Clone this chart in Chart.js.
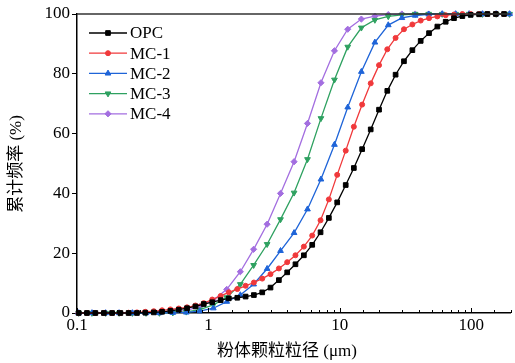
<!DOCTYPE html>
<html>
<head>
<meta charset="utf-8">
<script src="https://cdn.jsdelivr.net/npm/chart.js@4.4.0/dist/chart.umd.min.js"></script>
<style>
  html, body { margin: 0; padding: 0; background: #fff; }
  #wrap { width: 515px; height: 363px; }
</style>
</head>
<body>
<div id="wrap"><canvas id="psdChart" width="515" height="363"></canvas></div>
<script>
// particle size classes (um) - OPC and MC-1 were measured on a finer grid
const sizesA = [0.103, 0.119, 0.138, 0.160, 0.185, 0.214, 0.247, 0.286, 0.331, 0.384,
  0.444, 0.514, 0.595, 0.688, 0.797, 0.922, 1.07, 1.24, 1.43, 1.66,
  1.92, 2.22, 2.57, 2.97, 3.44, 3.98, 4.60, 5.33, 6.17, 7.14,
  8.26, 9.56, 11.1, 12.8, 14.8, 17.2, 19.9, 23.0, 26.6, 30.8,
  35.7, 41.3, 47.8, 55.3, 64.0, 74.0, 85.7, 99.2, 115, 133, 154, 178];
const sizesB = [0.103, 0.130, 0.165, 0.209, 0.264, 0.335, 0.424, 0.536, 0.679, 0.860,
  1.09, 1.38, 1.75, 2.21, 2.80, 3.54, 4.49, 5.68, 7.19, 9.11,
  11.5, 14.6, 18.5, 23.4, 29.7, 37.5, 47.5, 60.2, 76.2, 96.5, 122, 155, 196];

// cumulative passing (%)
const opc = [0, 0, 0, 0, 0, 0, 0, 0,
  0.1, 0.2, 0.4, 0.7, 1.1, 1.6, 2.2, 3.0, 3.6, 4.3,
  4.9, 5.1, 5.5, 6.0, 6.9, 8.5, 11.0, 13.6, 16.3, 19.3,
  22.8, 27.0, 31.8, 37.0, 42.8, 48.5, 54.8, 61.4, 68.0, 74.3,
  79.7, 84.2, 87.9, 91.0, 93.6, 95.8, 97.4, 98.6, 99.3, 99.7,
  99.9, 100, 100, 100];
const mc1 = [0, 0, 0, 0, 0, 0,
  0.1, 0.2, 0.4, 0.6, 0.9, 1.2, 1.5, 1.9, 2.5, 3.3,
  4.5, 5.7, 6.9, 8.0, 9.1, 10.2, 11.5, 13.0, 14.9, 17.0,
  19.3, 22.2, 25.9, 31.0, 38.0, 46.2, 54.3, 62.3, 69.7, 76.8,
  82.9, 88.2, 92.0, 94.9, 96.5, 97.8, 98.6, 99.2, 99.6, 99.8,
  100, 100, 100, 100, 100, 100];
const mc2 = [0, 0, 0, 0, 0, 0, 0,
  0.1, 0.2, 0.6, 1.6, 3.8, 6.0, 9.6, 14.8, 20.8, 26.8, 34.7,
  44.7, 56.3, 68.8, 80.7, 90.5, 96.3, 98.7, 99.5, 99.9,
  100, 100, 100, 100, 100, 100];
const mc3 = [0, 0, 0, 0, 0, 0, 0,
  0.1, 0.4, 1.1, 2.7, 5.2, 9.6, 16.0, 23.0, 31.3, 40.2, 51.4,
  65.1, 78.0, 89.0, 95.4, 98.0, 99.2, 99.7,
  100, 100, 100, 100, 100, 100, 100, 100];
const mc4 = [0, 0, 0, 0, 0, 0,
  0.1, 0.3, 0.9, 2.1, 4.3, 7.9, 13.8, 21.3, 29.7, 40.0, 50.6,
  63.4, 77.0, 87.7, 94.9, 98.3, 99.3, 99.8,
  100, 100, 100, 100, 100, 100, 100, 100, 100];

const seriesNames = ['OPC', 'MC-1', 'MC-2', 'MC-3', 'MC-4'];
const xLabelValues = [0.1, 1, 10, 100];
const xTitle = '粉体颗粒粒径 (μm)';
const yTitle = '累计频率 (%)';

const serif = '"Liberation Serif", "Times New Roman", "Noto Sans CJK SC", serif';

function pts(xs, ys) {
  return xs.map((x, i) => ({ x: x, y: ys[i] }));
}

function series(label, xs, ys, color, style, radius, rotation) {
  return {
    label: label,
    data: pts(xs, ys),
    showLine: true,
    borderColor: color,
    backgroundColor: color,
    borderWidth: 1.3,
    tension: 0,
    pointStyle: style,
    pointRadius: radius,
    pointHoverRadius: radius,
    pointRotation: rotation || 0,
    pointBorderWidth: 1,
    pointBackgroundColor: color,
    pointBorderColor: color,
    clip: false
  };
}

const isMajor = v => xLabelValues.some(m => Math.abs(v - m) < m * 1e-6);

// inward ticks on the x axis + the top frame line
const framePlugin = {
  id: 'frame',
  afterDraw(chart) {
    const ctx = chart.ctx;
    const area = chart.chartArea;
    const xs = chart.scales.x;
    ctx.save();
    ctx.strokeStyle = '#000';
    ctx.lineWidth = 1;
    xs.ticks.forEach(t => {
      const px = Math.round(xs.getPixelForValue(t.value)) + 0.5;
      const len = isMajor(t.value) ? 5 : 3;
      ctx.beginPath();
      ctx.moveTo(px, area.bottom);
      ctx.lineTo(px, area.bottom - len);
      ctx.stroke();
    });
    ctx.strokeStyle = '#333';
    ctx.lineWidth = 1.5;
    ctx.beginPath();
    ctx.moveTo(area.left, area.top);
    ctx.lineTo(area.right, area.top);
    ctx.stroke();
    ctx.restore();
  }
};

// legend in the upper left corner of the plot
const legendPlugin = {
  id: 'innerLegend',
  afterDraw(chart) {
    const ctx = chart.ctx;
    ctx.save();
    ctx.font = '17px ' + serif;
    ctx.textBaseline = 'middle';
    ctx.textAlign = 'left';
    chart.data.datasets.forEach((ds, i) => {
      const y = 33 + i * 20.2;
      ctx.strokeStyle = ds.borderColor;
      ctx.lineWidth = ds.borderWidth;
      ctx.beginPath();
      ctx.moveTo(89, y);
      ctx.lineTo(127, y);
      ctx.stroke();
      ctx.fillStyle = ds.backgroundColor;
      ctx.lineWidth = 1;
      Chart.helpers.drawPoint(ctx, {
        pointStyle: ds.pointStyle,
        rotation: ds.pointRotation,
        radius: ds.pointRadius,
        borderWidth: 1
      }, 108, y);
      ctx.fillStyle = '#000';
      ctx.fillText(ds.label, 130, y + 1);
    });
    ctx.restore();
  }
};

const titlePlugin = {
  id: 'axisTitles',
  afterDraw(chart) {
    const ctx = chart.ctx;
    ctx.save();
    ctx.fillStyle = '#000';
    ctx.font = '17px ' + serif;
    ctx.textAlign = 'center';
    ctx.textBaseline = 'middle';
    ctx.fillText(xTitle, 287, 352);
    ctx.translate(17, 164);
    ctx.rotate(-Math.PI / 2);
    ctx.fillText(yTitle, 0, 0);
    ctx.restore();
  }
};

new Chart(document.getElementById('psdChart'), {
  type: 'scatter',
  data: {
    datasets: [
      series(seriesNames[0], sizesA, opc, '#000000', 'rect', 3.3),
      series(seriesNames[1], sizesA, mc1, '#f0393b', 'circle', 2.5),
      series(seriesNames[2], sizesB, mc2, '#1e64d8', 'triangle', 3.3),
      series(seriesNames[3], sizesB, mc3, '#2ea160', 'triangle', 3.3, 180),
      series(seriesNames[4], sizesB, mc4, '#a36ee0', 'rectRot', 3.1)
    ]
  },
  options: {
    responsive: false,
    animation: false,
    devicePixelRatio: 1,
    layout: { padding: { top: 14, right: 0, left: 0, bottom: 0 } },
    plugins: {
      legend: { display: false },
      tooltip: { enabled: false }
    },
    scales: {
      x: {
        type: 'logarithmic',
        min: 0.1,
        max: 200,
        afterFit: s => { s.height = 50; },
        grid: { display: true, drawOnChartArea: false, drawTicks: false },
        border: { display: true, color: '#000', width: 1.5 },
        ticks: {
          autoSkip: false,
          maxRotation: 0,
          padding: 2,
          color: '#000',
          font: { family: serif, size: 17 },
          callback: v => isMajor(v) ? String(v) : ''
        }
      },
      y: {
        min: 0,
        max: 100,
        afterFit: s => { s.width = 77; },
        grid: { drawOnChartArea: false, drawTicks: true, tickLength: 5, tickColor: '#000' },
        border: { display: true, color: '#000', width: 1.5 },
        ticks: {
          stepSize: 20,
          padding: 2,
          color: '#000',
          font: { family: serif, size: 17 }
        }
      }
    }
  },
  plugins: [framePlugin, legendPlugin, titlePlugin]
});
</script>
</body>
</html>
